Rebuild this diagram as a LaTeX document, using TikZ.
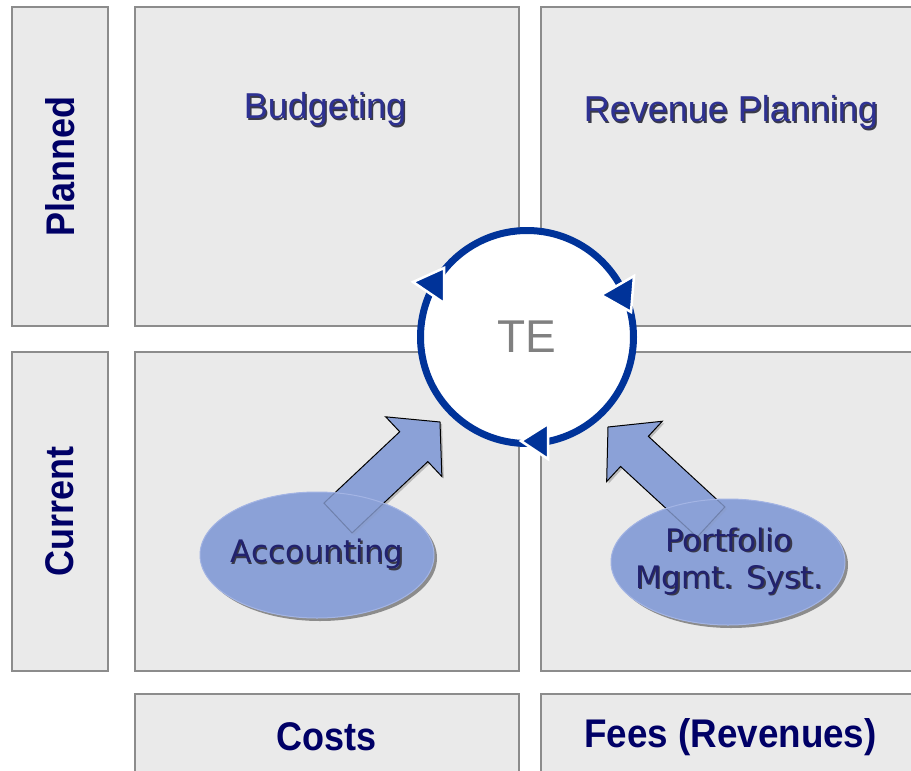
\documentclass[tikz,border=0pt]{standalone}
\usepackage{fontspec}
\newfontfamily\verdfont{DejaVu Sans}
\newfontfamily\arialfont{Liberation Sans}
\usetikzlibrary{shapes.geometric,shadows,calc}

\definecolor{boxfill}{HTML}{EAEAEA}
\definecolor{boxline}{HTML}{8C8C8C}
\definecolor{tering}{HTML}{003399}
\definecolor{ellblue}{HTML}{8BA1D7}
\definecolor{ellrim}{HTML}{A3B4E4}
\definecolor{textnavy}{HTML}{2E3192}
\definecolor{sysnavy}{HTML}{22226E}
\definecolor{labelnavy}{HTML}{000066}
\definecolor{tegray}{HTML}{808080}
\definecolor{shdark}{HTML}{3A3A48}

% text with a small drop shadow
\newcommand\shtext[2][shdark]{\makebox[0pt][l]{\hspace{1.5pt}\raisebox{-1.5pt}{\textcolor{#1}{#2}}}#2}

% block arrow from #1 (base) to #2 (tip)
\newcommand\blockarrow[2]{%
  \coordinate (hd) at ($(#2)!36pt!(#1)$);
  \draw[blockarr] ($(#1)!20.5pt!90:(#2)$) -- ($(hd)!20.5pt!90:(#2)$)
    -- ($(hd)!41pt!90:(#2)$) -- (#2) -- ($(hd)!41pt!-90:(#2)$)
    -- ($(hd)!20.5pt!-90:(#2)$) -- ($(#1)!20.5pt!-90:(#2)$) -- cycle;}

\tikzset{
  cell/.style={draw=boxline, fill=boxfill, line width=1.5pt, inner sep=0pt},
  axislabel/.style={text=labelnavy, font=\arialfont\bfseries\fontsize{40}{44}\selectfont},
  title/.style={text=textnavy, font=\arialfont\fontsize{36}{40}\selectfont},
  system/.style={text=sysnavy, align=center, inner sep=0pt,
    font=\verdfont\fontsize{31}{37}\selectfont},
  ellbase/.style={fill=ellblue},
  elltop/.style={fill=ellblue, fill opacity=0.8, draw=ellrim, line width=1pt},
  ellshadow/.style={fill=black!45},
  blockarr/.style={fill=ellblue, draw=black, line width=1pt, line join=miter,
    drop shadow={shadow xshift=2pt, shadow yshift=-2pt, opacity=0.45}},
  ringnode/.style={circle, draw=tering, line width=7pt, fill=white, minimum size=213pt,
    text=tegray, font=\arialfont\fontsize{46}{50}\selectfont},
  ringtip/.style={fill=tering, draw=white, line width=2.5pt, line join=miter}
}

\begin{document}
\begin{tikzpicture}[x=1pt, y=-1pt]
  \useasboundingbox (0,0) rectangle (911,771);
  \clip (0,0) rectangle (911,771);

  % row labels
  \node[cell, axislabel, rotate=90, minimum width=319pt, minimum height=96pt] (plan) at (60,166.5) {\scalebox{0.9}[1]{Planned}};
  \node[cell, axislabel, rotate=90, minimum width=319pt, minimum height=96pt] (cur) at (60,511.5) {\scalebox{0.9}[1]{Current}};

  % quadrants
  \node[cell, minimum width=384pt, minimum height=319pt] (bud) at (327,166.5) {};
  \node[cell, minimum width=379pt, minimum height=319pt] (rev) at (730.5,166.5) {};
  \node[cell, minimum width=384pt, minimum height=319pt] (accbox) at (327,511.5) {};
  \node[cell, minimum width=379pt, minimum height=319pt] (pmgbox) at (730.5,511.5) {};

  % column labels
  \node[cell, axislabel, minimum width=384pt, minimum height=86pt] (costs) at (327,737) {\scalebox{0.9}[1]{Costs}};
  \node[cell, axislabel, minimum width=379pt, minimum height=86pt] (fees) at (730.5,737) {\scalebox{0.92}[1]{Fees (Revenues)}};

  \node[title] (budtxt) at (325,110) {\shtext{Budgeting}};
  \node[title] (revtxt) at (731,113) {\shtext{Revenue Planning}};

  % systems feeding TE
  \fill[ellshadow] (320,558) ellipse [x radius=117, y radius=63];
  \fill[ellbase] (317,555) ellipse [x radius=117, y radius=63];
  \fill[ellshadow] (731,565) ellipse [x radius=117, y radius=63];
  \fill[ellbase] (728,562) ellipse [x radius=117, y radius=63];

  \node[ringnode] (te) at (527,337) {TE};

  \coordinate (accbase) at (338,518);
  \coordinate (pmgbase) at (711,522);
  \coordinate (acctip) at ($(te.center)+(-87,85)$);
  \coordinate (pmgtip) at ($(te.center)+(81,90)$);
  \blockarrow{accbase}{acctip}
  \blockarrow{pmgbase}{pmgtip}

  \draw[elltop] (317,555) ellipse [x radius=117, y radius=63];
  \draw[elltop] (728,562) ellipse [x radius=117, y radius=63];
  \node[system] (acc) at (317,555) {\shtext{Accounting}};
  \node[system] (pmg) at (729,562) {\shtext{Portfolio}\\\shtext{Mgmt. Syst.}};

  % arrow tips on the ring
  \begin{scope}[shift={(te.center)}]
    \filldraw[ringtip] (-114,-55) -- (-83,-69) -- (-83,-34) -- cycle;
    \filldraw[ringtip] (74,-42) -- (107,-61) -- (104,-25) -- cycle;
    \filldraw[ringtip] (-6,104) -- (21,87) -- (21,122) -- cycle;
  \end{scope}
\end{tikzpicture}
\end{document}
